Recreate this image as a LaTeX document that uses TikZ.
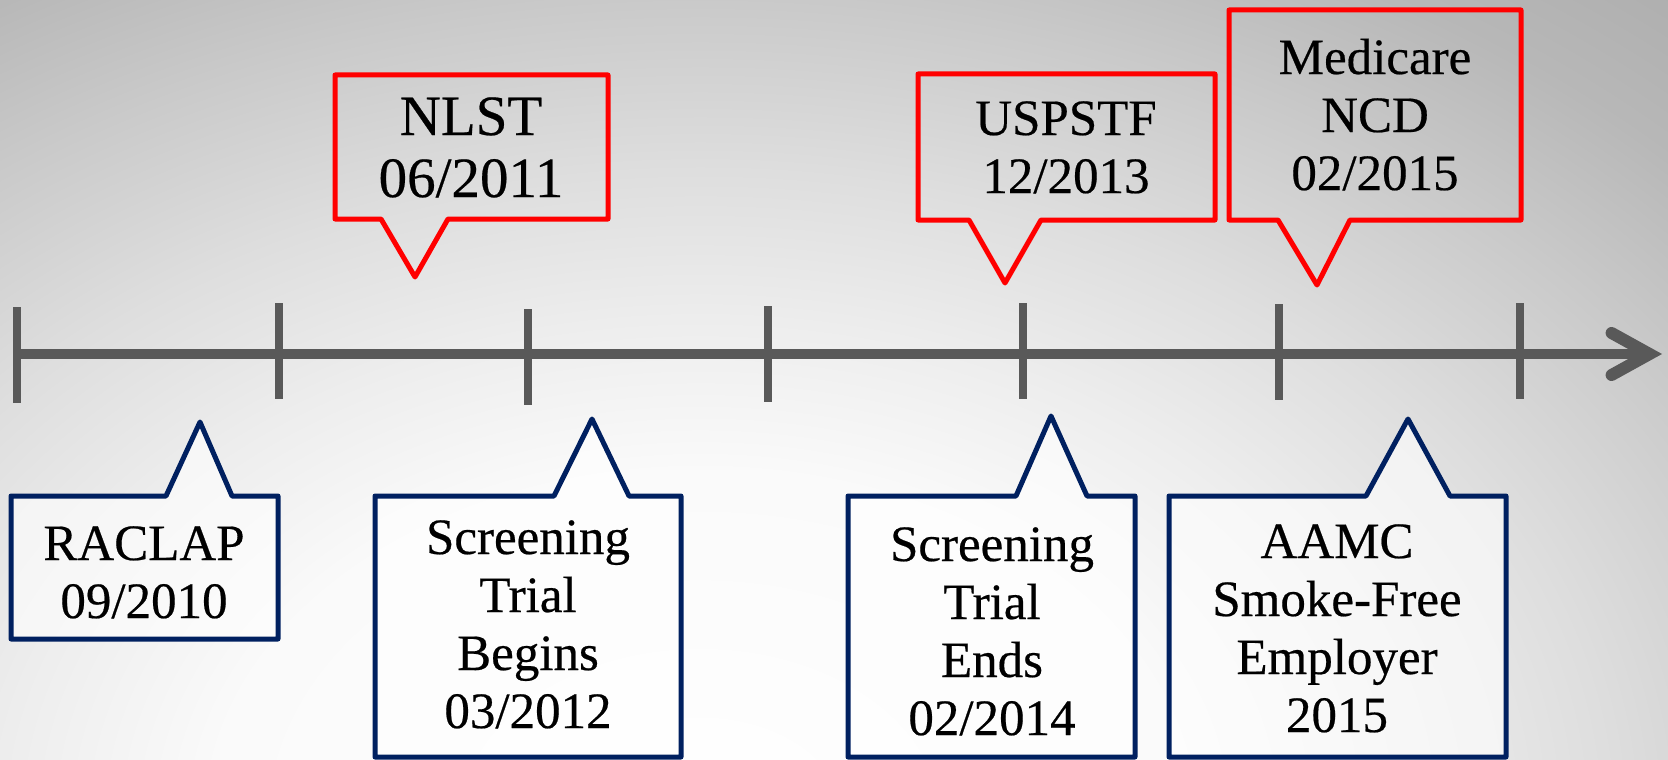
\documentclass[tikz,border=0pt]{standalone}
\usepackage{fontspec}
\setmainfont{Liberation Serif}[FakeBold=0.4]
\usetikzlibrary{arrows.meta}
\definecolor{axisgray}{HTML}{595959}
\definecolor{calloutred}{HTML}{FF0000}
\definecolor{calloutblue}{HTML}{002060}
\definecolor{bgA}{gray}{1}
\definecolor{bgB}{gray}{0.98}
\definecolor{bgC}{gray}{0.93}
\definecolor{bgD}{gray}{0.87}
\definecolor{bgE}{gray}{0.79}
\definecolor{bgF}{gray}{0.72}
\definecolor{bgG}{gray}{0.68}
\definecolor{bgH}{gray}{0.63}
\pgfdeclareradialshading{bgshade}{\pgfpoint{0bp}{0bp}}{color(0bp)=(bgA); color(8.75bp)=(bgB); color(12.5bp)=(bgC); color(16.25bp)=(bgD); color(20.5bp)=(bgE); color(24bp)=(bgF); color(27.5bp)=(bgG); color(50bp)=(bgH)}
\tikzset{
  axisline/.style={draw=axisgray, line width=10pt},
  tickmark/.style={draw=axisgray, line width=8pt},
  redcall/.style={draw=calloutred, line width=5pt, line join=round},
  bluecall/.style={draw=calloutblue, line width=5pt, line join=round, fill=white, fill opacity=0.6},
  bigtext/.style={align=center, anchor=base, inner sep=0pt, font=\fontsize{57}{62}\selectfont},
  lbl/.style={align=center, anchor=base, inner sep=0pt, font=\fontsize{51}{58}\selectfont},
}
\begin{document}
\begin{tikzpicture}[x=1pt, y=-1pt]
\useasboundingbox (0,0) rectangle (1668,760);
\begin{scope}
  \clip (0,0) rectangle (1668,760);
  \shade[shading=bgshade] (-700,-180) rectangle (2100,1820);
\end{scope}

% axis
\coordinate (axstart) at (13,354);
\coordinate (axend) at (1662,354);
\draw[axisline, -{Straight Barb[length=38pt, width=42pt, line width=12pt, line cap=round]}] (axstart) -- (axend);
\draw[tickmark] (17,307) -- (17,403);
\draw[tickmark] (279,303) -- (279,399);
\draw[tickmark] (528,309) -- (528,405);
\draw[tickmark] (768,306) -- (768,402);
\draw[tickmark] (1023,303) -- (1023,399);
\draw[tickmark] (1279,304) -- (1279,400);
\draw[tickmark] (1520,303) -- (1520,399);

% red callouts
\draw[redcall] (335,75) -- (608,75) -- (608,219) -- (448,219) -- (415,277) -- (381,219) -- (335,219) -- cycle;
\draw[redcall] (918,74) -- (1215,74) -- (1215,220) -- (1041,220) -- (1005,283) -- (969,220) -- (918,220) -- cycle;
\draw[redcall] (1229,10) -- (1521,10) -- (1521,220) -- (1350,220) -- (1317,285) -- (1278,220) -- (1229,220) -- cycle;

% blue callouts
\draw[bluecall] (11,496) -- (166,496) -- (200,422) -- (232,496) -- (278,496) -- (278,639) -- (11,639) -- cycle;
\draw[bluecall] (375,496) -- (554,496) -- (592,419) -- (629,496) -- (681,496) -- (681,757) -- (375,757) -- cycle;
\draw[bluecall] (848,496) -- (1016,496) -- (1051,416) -- (1087,496) -- (1135,496) -- (1135,757) -- (848,757) -- cycle;
\draw[bluecall] (1169,496) -- (1366,496) -- (1408,419) -- (1450,496) -- (1506,496) -- (1506,757) -- (1169,757) -- cycle;

% texts (anchor base = baseline of the last line)
\node[bigtext] (nlst) at (471,197) {NLST\\06/2011};
\node[lbl] (uspstf) at (1066,193) {USPSTF\\12/2013};
\node[lbl] (medicare) at (1375,190) {Medicare\\NCD\\02/2015};
\node[lbl] (raclap) at (144,618) {RACLAP\\09/2010};
\node[lbl] (begins) at (528,728) {Screening\\Trial\\Begins\\03/2012};
\node[lbl] (ends) at (992,735) {Screening\\Trial\\Ends\\02/2014};
\node[lbl] (aamc) at (1337,732) {AAMC\\Smoke-Free\\Employer\\2015};
\end{tikzpicture}
\end{document}
